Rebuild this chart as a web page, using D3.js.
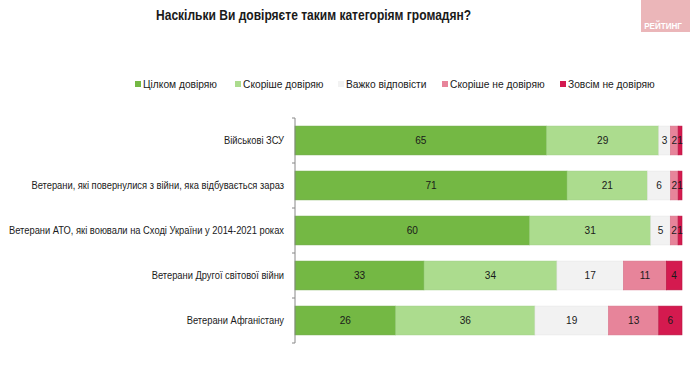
<!DOCTYPE html>
<html>
<head>
<meta charset="utf-8">
<script src="https://cdn.jsdelivr.net/npm/d3@7"></script>
<style>
  body { margin: 0; background: #fff; }
  svg text { font-family: "Liberation Sans", Arial, sans-serif; fill: #1a1a1a; }
</style>
</head>
<body>
<div id="container"></div>
<script>
const categories = [
    'Військові ЗСУ',
    'Ветерани, які повернулися з війни, яка відбувається зараз',
    'Ветерани АТО, які воювали на Сході України у 2014-2021 роках',
    'Ветерани Другої світової війни',
    'Ветерани Афганістану'
];
const seriesNames = ['Цілком довіряю', 'Скоріше довіряю', 'Важко відповісти', 'Скоріше не довіряю', 'Зовсім не довіряю'];
const fullyTrust = [65, 71, 60, 33, 26];
const ratherTrust = [29, 21, 31, 34, 36];
const hardToSay = [3, 6, 5, 17, 19];
const ratherNot = [2, 2, 2, 11, 13];
const notAtAll = [1, 1, 1, 4, 6];
const colors = ['#74b844', '#acdc8e', '#f2f2f2', '#e7849a', '#d41a4f'];
const strokes = ['#64a638', '#98cc7a', '#e6e6e6', '#d87088', '#b8123f'];

const W = 690, H = 390;
const left = 295, right = 682;

const rows = categories.map(function (c, i) {
    return { cat: c, s0: fullyTrust[i], s1: ratherTrust[i], s2: hardToSay[i], s3: ratherNot[i], s4: notAtAll[i] };
});
const keys = ['s0', 's1', 's2', 's3', 's4'];

const svg = d3.select('#container')
    .append('svg')
    .attr('width', W)
    .attr('height', H);

// the source font is narrow, so squeeze the text a little horizontally
function narrowText(parent, x, y, k) {
    return parent.append('text')
        .attr('transform', 'translate(' + x + ',' + y + ') scale(' + k + ',1)');
}

// title
narrowText(svg, 156, 20, 0.86)
    .style('font-size', '14px')
    .style('font-weight', 'bold')
    .text('Наскільки Ви довіряєте таким категоріям громадян?');

// logo
svg.append('rect')
    .attr('x', 641).attr('y', 0)
    .attr('width', 49).attr('height', 32)
    .style('fill', '#ebb6b9');
narrowText(svg, 663, 29, 0.95)
    .style('text-anchor', 'middle')
    .style('font-size', '8.5px')
    .style('font-weight', 'bold')
    .style('fill', '#fff')
    .text('РЕЙТИНГ');

// legend
const legendX = [135, 235, 338, 442, 560];
const legend = svg.append('g').attr('id', 'legend')
    .selectAll('g')
    .data(seriesNames)
    .enter()
    .append('g')
    .attr('transform', function (d, i) { return 'translate(' + legendX[i] + ',84)'; });
legend.append('rect')
    .attr('x', 0).attr('y', -3)
    .attr('width', 6).attr('height', 6)
    .style('fill', function (d, i) { return colors[i]; });
legend.each(function (d) {
    narrowText(d3.select(this), 8, 0, 0.93)
        .attr('dy', '.35em')
        .style('font-size', '11px')
        .text(d);
});

const stack = d3.stack().keys(keys).offset(d3.stackOffsetExpand);
const series = stack(rows);

const xScale = d3.scaleLinear().domain([0, 1]).range([left, right]);
const yScale = d3.scaleBand()
    .domain(categories)
    .range([118, 343])
    .paddingInner(0.36)
    .paddingOuter(0.18);

const layers = svg.selectAll('.layer')
    .data(series)
    .enter()
    .append('g')
    .attr('class', 'layer');

layers.selectAll('rect')
    .data(function (d, i) { return d.map(function (p) { return { p: p, k: i }; }); })
    .enter()
    .append('rect')
    .attr('x', function (d) { return xScale(d.p[0]); })
    .attr('y', function (d) { return yScale(d.p.data.cat); })
    .attr('width', function (d) { return xScale(d.p[1]) - xScale(d.p[0]); })
    .attr('height', yScale.bandwidth())
    .style('fill', function (d) { return colors[d.k]; })
    .style('stroke', function (d) { return strokes[d.k]; })
    .style('stroke-width', 0.6);

layers.each(function (s, i) {
    const g = d3.select(this);
    s.forEach(function (p) {
        const cx = (xScale(p[0]) + xScale(p[1])) / 2;
        const cy = yScale(p.data.cat) + yScale.bandwidth() / 2;
        narrowText(g, cx, cy, 0.92)
            .attr('dy', '.35em')
            .style('text-anchor', 'middle')
            .style('font-size', '11px')
            .text(p.data[keys[i]]);
    });
});

// category axis
const yAxis = d3.axisLeft(yScale).tickSize(0).tickPadding(10);
const axisG = svg.append('g')
    .attr('transform', 'translate(' + left + ',0)')
    .call(yAxis);
axisG.select('.domain').attr('stroke', '#888').attr('d', 'M-3,118H0V343H-3');
axisG.selectAll('.tick text')
    .style('font-size', '11px')
    .style('font-family', '"Liberation Sans", Arial, sans-serif')
    .attr('fill', '#1a1a1a')
    .attr('x', -11 / 0.85)
    .attr('transform', 'scale(0.85,1)');

// separators between bands
const bounds = categories.slice(1).map(function (c) { return yScale(c) - yScale.step() * yScale.paddingInner() / 2; });
svg.selectAll('.sep')
    .data(bounds)
    .enter()
    .append('line')
    .attr('x1', left - 3).attr('x2', left)
    .attr('y1', function (d) { return d; })
    .attr('y2', function (d) { return d; })
    .style('stroke', '#888');
</script>
</body>
</html>
